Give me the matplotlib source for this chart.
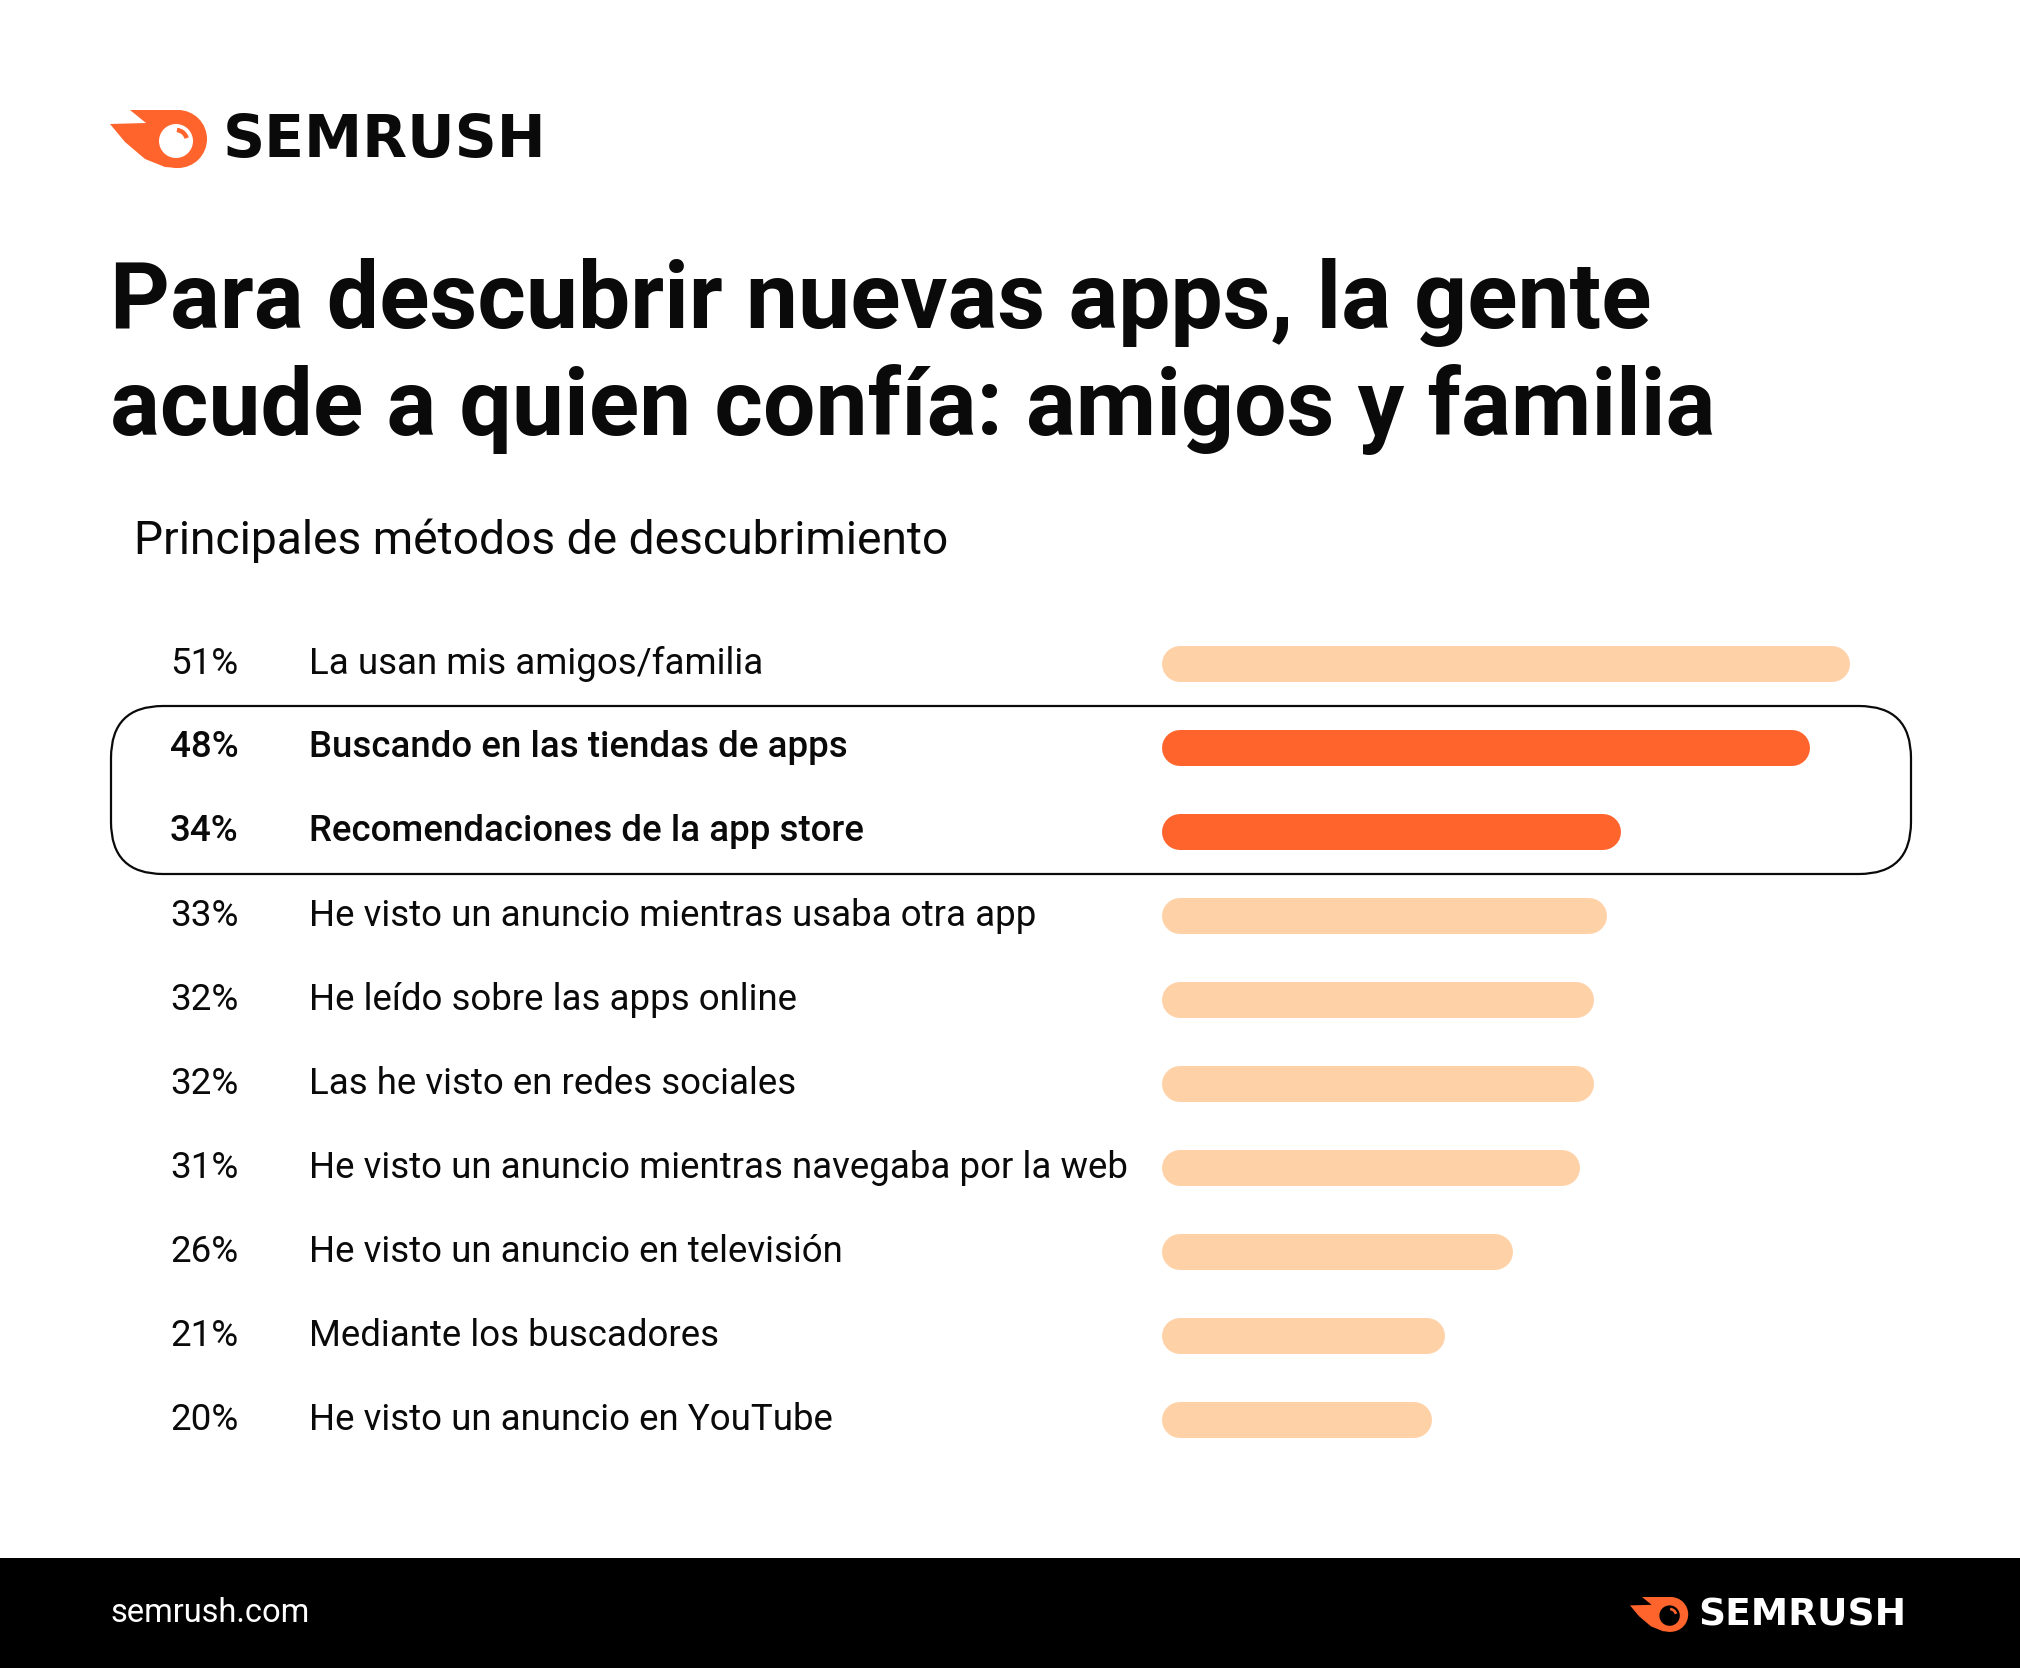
import matplotlib
matplotlib.use("Agg")
import matplotlib.pyplot as plt
import matplotlib.transforms as mtransforms
from matplotlib.patches import FancyBboxPatch, Circle, Polygon, Arc, Rectangle

# ---------------- data ----------------
labels = [
    "La usan mis amigos/familia",
    "Buscando en las tiendas de apps",
    "Recomendaciones de la app store",
    "He visto un anuncio mientras usaba otra app",
    "He leído sobre las apps online",
    "Las he visto en redes sociales",
    "He visto un anuncio mientras navegaba por la web",
    "He visto un anuncio en televisión",
    "Mediante los buscadores",
    "He visto un anuncio en YouTube",
]
values = [51, 48, 34, 33, 32, 32, 31, 26, 21, 20]
highlighted = [False, True, True, False, False, False, False, False, False, False]

title_lines = ["Para descubrir nuevas apps, la gente", "acude a quien confía: amigos y familia"]
subtitle = "Principales métodos de descubrimiento"
footer_url = "semrush.com"
brand = "SEMRUSH"

ORANGE = "#FF642D"
PEACH = "#FFD1A7"
INK = "#0A0A0A"

W, H = 2020, 1668
DPI = 100
plt.rcParams["font.family"] = ["Roboto", "DejaVu Sans"]

fig = plt.figure(figsize=(W / DPI, H / DPI), dpi=DPI)
fig.patch.set_facecolor("white")

# overlay axes in pixel coordinates (y downwards)
ov = fig.add_axes([0, 0, 1, 1])
ov.set_xlim(0, W)
ov.set_ylim(H, 0)
ov.axis("off")


def draw_logo(ax, x0, y0, s, text_color, fs):
    """Semrush logo; (x0, y0) = top-left of icon, s = scale (1 -> 58px tall)."""
    cx, cy, R = x0 + 68 * s, y0 + 29 * s, 29 * s
    flame = [
        (x0 + 20 * s, y0 + 0 * s), (cx, y0 + 0 * s), (cx, y0 + 58 * s),
        (x0 + 55 * s, y0 + 57 * s), (x0 + 35 * s, y0 + 49 * s),
        (x0 + 15 * s, y0 + 32 * s), (x0 + 0 * s, y0 + 14 * s),
        (x0 + 36 * s, y0 + 13 * s),
    ]
    ax.add_patch(Polygon(flame, closed=True, facecolor=ORANGE, edgecolor="none", zorder=3))
    ax.add_patch(Circle((cx, cy), R, facecolor=ORANGE, edgecolor="none", zorder=3))
    ax.add_patch(Circle((cx - 2 * s, cy + 2 * s), 17 * s, facecolor="white" if text_color != "white" else "black",
                        edgecolor="none", zorder=4))
    ax.add_patch(Arc((cx - 2 * s, cy + 2 * s), 22 * s, 22 * s, theta1=-85, theta2=-15,
                     color=ORANGE, lw=3.2 * s, zorder=5))
    ax.text(x0 + 113 * s, cy + 1 * s, brand, fontsize=fs, fontweight="bold",
            family=["DejaVu Sans"], color=text_color, va="center", ha="left", zorder=5)


draw_logo(ov, 110, 110, 1.0, INK, 42)

# title & subtitle
ov.text(110, 328, title_lines[0], fontsize=67, fontweight="bold", color=INK, ha="left", va="baseline")
ov.text(110, 435, title_lines[1], fontsize=67, fontweight="bold", color=INK, ha="left", va="baseline")
ov.text(134, 554, subtitle, fontsize=33.2, color=INK, ha="left", va="baseline")

# highlight box
box_top, box_bot = 706, 874
ov.add_patch(FancyBboxPatch((111 + 52, box_top + 52), 1911 - 111 - 104, box_bot - box_top - 104,
                            boxstyle="round,pad=52", facecolor="none", edgecolor=INK, lw=1.6, zorder=2))

# footer
ov.add_patch(Rectangle((0, 1558), W, H - 1558, facecolor="black", edgecolor="none", zorder=1))
ov.text(110, 1613, footer_url, fontsize=23.5, color="white", ha="left", va="center", zorder=2)
draw_logo(ov, 1630, 1597, 0.6, "white", 27)

# ---------------- bars ----------------
n = len(values)
row_h = 84
top_px = 663.7 - row_h / 2
x0_px, px_per = 1162, 688 / 51
ax_w = 51 * px_per
ax = fig.add_axes([x0_px / W, 1 - (top_px + n * row_h) / H, ax_w / W, n * row_h / H])
ax.set_xlim(0, 51)
ax.set_ylim(n - 0.5, -0.5)
ax.axis("off")
ax.patch.set_alpha(0)

bar_px = 36
lw_pt = bar_px * 72 / DPI
r_data = (bar_px / 2) / px_per
for i, (v, hl) in enumerate(zip(values, highlighted)):
    ax.hlines(i, r_data, v - r_data, lw=lw_pt, color=ORANGE if hl else PEACH,
              capstyle="round", zorder=3)

tr = mtransforms.blended_transform_factory(fig.transFigure, ax.transData)
text_shift = -4 / row_h
for i, (lab, v, hl) in enumerate(zip(labels, values, highlighted)):
    w = "medium" if hl else "normal"
    ax.text(170 / W, i + text_shift, f"{v}%", transform=tr, fontsize=26.5, fontweight=w, color=INK,
            ha="left", va="center_baseline", clip_on=False)
    ax.text(309 / W, i + text_shift, lab, transform=tr, fontsize=26.4, fontweight=w, color=INK,
            ha="left", va="center_baseline", clip_on=False)

fig.savefig("out.png", dpi=DPI, facecolor="white")
